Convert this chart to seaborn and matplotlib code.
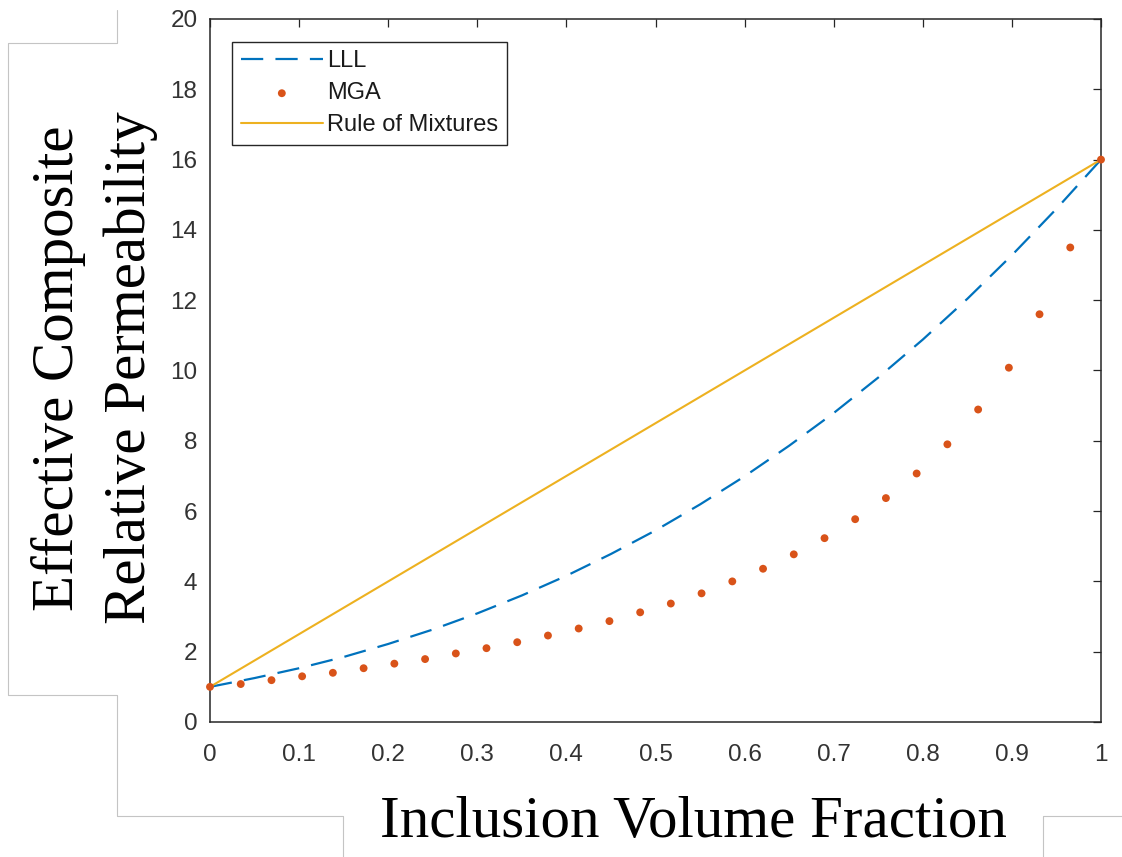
import numpy as np
import pandas as pd
import matplotlib
matplotlib.use("Agg")
import matplotlib.pyplot as plt
from matplotlib.lines import Line2D
import seaborn as sns

# ---- data ----
lll_x = [0.0, 0.05, 0.10, 0.15, 0.20, 0.25, 0.30, 0.35, 0.40, 0.45, 0.50,
         0.55, 0.60, 0.65, 0.70, 0.75, 0.80, 0.85, 0.90, 0.95, 1.0]
lll_y = [1.00, 1.25, 1.53, 1.85, 2.22, 2.63, 3.09, 3.60, 4.16, 4.78, 5.45,
         6.19, 6.99, 7.86, 8.79, 9.80, 10.88, 12.04, 13.28, 14.60, 16.00]

mga_x = [0.0, 0.0345, 0.0690, 0.1034, 0.1379, 0.1724, 0.2069, 0.2414, 0.2759, 0.3103,
         0.3448, 0.3793, 0.4138, 0.4483, 0.4828, 0.5172, 0.5517, 0.5862, 0.6207, 0.6552,
         0.6897, 0.7241, 0.7586, 0.7931, 0.8276, 0.8621, 0.8966, 0.9310, 0.9655, 1.0]
mga_y = [1.00, 1.08, 1.19, 1.30, 1.40, 1.53, 1.66, 1.79, 1.95, 2.10,
         2.27, 2.46, 2.66, 2.87, 3.12, 3.37, 3.66, 4.00, 4.36, 4.77,
         5.23, 5.77, 6.37, 7.07, 7.90, 8.89, 10.08, 11.60, 13.50, 16.00]

rom_x = [0.0, 1.0]
rom_y = [1.0, 16.0]

series_labels = ["LLL", "MGA", "Rule of Mixtures"]
x_ticks = [0, 0.1, 0.2, 0.3, 0.4, 0.5, 0.6, 0.7, 0.8, 0.9, 1]
x_ticklabels = ["0", "0.1", "0.2", "0.3", "0.4", "0.5", "0.6", "0.7", "0.8", "0.9", "1"]
y_ticks = [0, 2, 4, 6, 8, 10, 12, 14, 16, 18, 20]
x_label = "Inclusion Volume Fraction"
y_label_lines = ["Effective Composite", "Relative Permeability"]

# ---- style ----
sns.set_theme(style="white")
plt.rcParams["font.family"] = ["Liberation Sans", "DejaVu Sans"]

W, H = 1122, 857
fig = plt.figure(figsize=(W / 100, H / 100), dpi=100)
fig.patch.set_facecolor("white")
ax = fig.add_axes([210 / W, 135 / H, 891 / W, 703 / H])

c_lll = "#0072BD"
c_mga = "#D95319"
c_rom = "#EDB120"

df_lll = pd.DataFrame({"x": lll_x, "y": lll_y})
df_mga = pd.DataFrame({"x": mga_x, "y": mga_y})
df_rom = pd.DataFrame({"x": rom_x, "y": rom_y})

sns.lineplot(data=df_lll, x="x", y="y", ax=ax, color=c_lll, lw=1.6,
             linestyle=(0, (10, 5.5)), label=series_labels[0], zorder=3)
sns.scatterplot(data=df_mga, x="x", y="y", ax=ax, color=c_mga, s=32,
                edgecolor="none", label=series_labels[1], zorder=4, clip_on=False)
sns.lineplot(data=df_rom, x="x", y="y", ax=ax, color=c_rom, lw=1.5,
             label=series_labels[2], zorder=3)

ax.set_xlim(0, 1)
ax.set_ylim(0, 20)
ax.set_xticks(x_ticks)
ax.set_xticklabels(x_ticklabels)
ax.set_yticks(y_ticks)
ax.set_xlabel("")
ax.set_ylabel("")

tick_col = "#262626"
for s in ax.spines.values():
    s.set_visible(True)
    s.set_color(tick_col)
    s.set_linewidth(1.1)
ax.tick_params(axis="both", which="both", direction="in", length=6, width=0.9,
               color=tick_col, labelcolor="#333333", labelsize=17.5,
               top=True, right=True)
ax.tick_params(axis="x", pad=16)
ax.tick_params(axis="y", pad=9)

handles, labels = ax.get_legend_handles_labels()
order = [labels.index(l) for l in series_labels]
leg = ax.legend([handles[i] for i in order], [labels[i] for i in order],
                loc="upper left", bbox_to_anchor=(22 / 891, 1 - 23 / 703),
                borderaxespad=0, fancybox=False, edgecolor=tick_col, framealpha=1,
                fontsize=17, handlelength=3.5, handletextpad=0.18,
                labelspacing=0.42, borderpad=0.36)
leg.get_frame().set_linewidth(1.0)
for t in leg.get_texts():
    t.set_color("#1a1a1a")

# axis titles (Times-like serif)
serif = ["Liberation Serif", "DejaVu Serif"]
fig.text(693 / W, 1 - 837 / H, x_label, family=serif, fontsize=42.5,
         ha="center", va="baseline", color="black")
fig.text(73 / W, 1 - 368 / H, y_label_lines[0], family=serif, fontsize=42.5,
         rotation=90, rotation_mode="anchor", ha="center", va="baseline", color="black")
fig.text(145 / W, 1 - 368 / H, y_label_lines[1], family=serif, fontsize=42.5,
         rotation=90, rotation_mode="anchor", ha="center", va="baseline", color="black")

# faint page-frame lines visible around the pasted figure
def px_line(xs, ys):
    fig.add_artist(Line2D([x / W for x in xs], [1 - y / H for y in ys],
                          transform=fig.transFigure, color="#c4c4c4", lw=0.8))

px_line([117, 117, 8, 8, 117, 117, 343, 343], [10, 43, 43, 695, 695, 816, 816, 857])
px_line([1122, 1043, 1043], [816, 816, 857])

fig.savefig("out.png", dpi=100, facecolor="white")
